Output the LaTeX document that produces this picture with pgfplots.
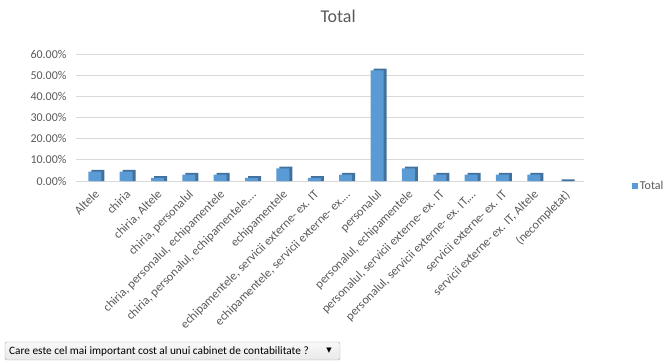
\documentclass[border=0pt]{standalone}
\usepackage{pgfplots}
\usepackage{pgfplotstable}
\pgfplotsset{compat=1.18}
\usepackage{fontspec}
\setmainfont{Carlito}
\newfontfamily\dejavu{DejaVu Sans}
\usetikzlibrary{shadings}
\definecolor{barfront}{HTML}{5B9BD5}
\definecolor{barside}{HTML}{41719C}
\definecolor{txt}{HTML}{595959}
\definecolor{gridc}{HTML}{D9D9D9}
\pgfplotstableread{
x y
0 4.48
1 4.48
2 1.49
3 2.99
4 2.99
5 1.49
6 5.97
7 1.49
8 2.99
9 52.24
10 5.97
11 2.99
12 2.99
13 2.99
14 2.99
15 0
}\datatable
\begin{document}
\begin{tikzpicture}[x=1pt,y=1pt]
\path[use as bounding box] (0,0) rectangle (672,364);
\begin{axis}[
  at={(76pt,183pt)}, anchor=south west,
  scale only axis, width=508pt, height=127pt,
  xmin=-0.6, xmax=15.6, ymin=0, ymax=60,
  ybar, bar width=13pt,
  axis line style={draw=none},
  major tick length=0pt,
  tick style={draw opacity=0, line width=0pt},
  grid=none,
  ytick={0,10,...,60},
  yticklabel={\pgfmathprintnumber[fixed,fixed zerofill,precision=2]{\tick}\%},
  /pgf/number format/assume math mode=true,
  yticklabel style={font=\fontsize{12}{14}\selectfont, text=txt, xshift=-6pt},
  xtick={0,...,15},
  xticklabels={{Altele},{chiria},{chiria, Altele},{chiria, personalul},{chiria, personalul, echipamentele},{chiria, personalul, echipamentele,…},{echipamentele},{echipamentele, servicii externe- ex. IT},{echipamentele, servicii externe- ex.…},{personalul},{personalul, echipamentele},{personalul, servicii externe- ex. IT},{personalul, servicii externe- ex. IT,…},{servicii externe- ex. IT},{servicii externe- ex. IT, Altele},{(necompletat)}},
  xticklabel style={font=\fontsize{12.3}{14}\selectfont, text=txt, xshift=-1pt, yshift=-8pt, rotate=45, anchor=north east, inner sep=0pt},
  title={Total},
  title style={at={(0.516,1.25)}, anchor=center, font=\fontsize{18}{20}\selectfont, text=txt},
  legend style={at={(1.088,-0.04)}, anchor=west, draw=none, fill=none, font=\fontsize{12}{14}\selectfont, text=txt},
  legend image code/.code={\fill[barfront] (0pt,-3pt) rectangle (6pt,3pt);},
]
\pgfplotsinvokeforeach{0,10,20,30,40,50,60}{\draw[gridc, line width=0.8pt] (axis cs:-0.6,#1) -- (axis cs:15.6,#1);}
\addplot[fill=barside, draw=none, bar shift=3pt, forget plot] table[x=x, y expr=\thisrow{y}+0.8] {\datatable};
\addplot[fill=barfront, draw=none, bar shift=0pt] table[x=x, y=y] {\datatable};
\addlegendentry{Total}
\end{axis}
\shade[rounded corners=2pt, top color=white!95!gray, bottom color=white!82!gray, draw=gray!70] (5,4) rectangle (340,22);
\node[anchor=west, inner sep=0pt, font=\fontsize{11.3}{13}\selectfont] at (9,13) {Care este cel mai important cost al unui cabinet de contabilitate ?};
\node[inner sep=0pt, font=\dejavu\fontsize{7}{8}\selectfont] at (329,13) {▼};
\end{tikzpicture}
\end{document}
